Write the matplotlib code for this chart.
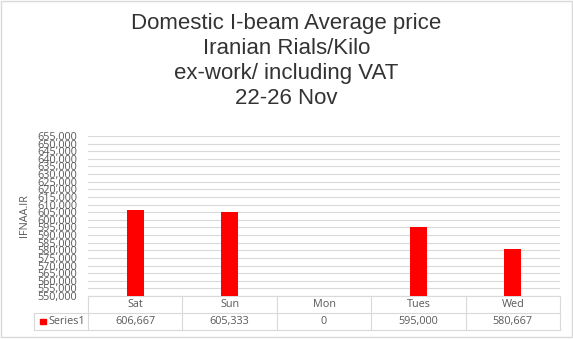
import matplotlib
matplotlib.use("Agg")
import matplotlib.pyplot as plt
from matplotlib.patches import Rectangle
from matplotlib.ticker import FuncFormatter, MultipleLocator
from matplotlib.transforms import blended_transform_factory

days = ["Sat", "Sun", "Mon", "Tues", "Wed"]
prices = [606667, 605333, 0, 595000, 580667]
series_name = "Series1"
y_min, y_max, y_step = 550000, 655000, 5000

title = "Domestic I-beam Average price\nIranian Rials/Kilo\nex-work/ including VAT\n22-26 Nov"
ylabel = "IFNAA.IR"

grid_c = "#d9d9d9"
text_c = "#595959"
bar_c = "#ff0000"
small = ["Open Sans", "DejaVu Sans"]

W, H = 573, 339
fig = plt.figure(figsize=(W / 100, H / 100), dpi=100)
plt.rcParams["font.family"] = ["Liberation Sans", "DejaVu Sans"]

# plot area in pixels: left 88, right 560, top 136, bottom 296
ax = fig.add_axes([88 / W, 1 - 296 / H, 472 / W, 160 / H])
x = list(range(len(days)))
ax.bar(x, prices, width=0.177, color=bar_c, zorder=3)
ax.set_xlim(-0.5, len(days) - 0.5)
ax.set_ylim(y_min, y_max)
ax.yaxis.set_major_locator(MultipleLocator(y_step))
ax.yaxis.set_major_formatter(FuncFormatter(lambda v, p: f"{v:,.0f}"))
ax.grid(axis="y", color=grid_c, linewidth=0.8, zorder=0)
for s in ax.spines.values():
    s.set_visible(False)
ax.tick_params(axis="y", length=0, pad=8, labelsize=7.8, labelcolor=text_c)
for lab in ax.get_yticklabels():
    lab.set_family(small)
ax.set_xticks([])
ax.set_ylabel(ylabel, fontsize=7.8, color=text_c, family=small)
ax.yaxis.set_label_coords(-0.122, 0.5)

# data table under the plot
tr = blended_transform_factory(ax.transData, ax.transAxes)
row_h = 17 / 160
x_left = -0.5 - 54 / (472 / len(days))
lk = dict(color=grid_c, linewidth=0.8, transform=tr, clip_on=False)
ax.plot([-0.5, len(days) - 0.5], [0, 0], **lk)
ax.plot([x_left, len(days) - 0.5], [-row_h, -row_h], **lk)
ax.plot([x_left, len(days) - 0.5], [-2 * row_h, -2 * row_h], **lk)
ax.plot([x_left, x_left], [-row_h, -2 * row_h], **lk)
for i in range(len(days) + 1):
    ax.plot([i - 0.5, i - 0.5], [0, -2 * row_h], **lk)
for i, (d, v) in enumerate(zip(days, prices)):
    ax.text(i, -row_h / 2, d, transform=tr, ha="center", va="center",
            fontsize=7.8, color=text_c, family=small)
    ax.text(i, -1.5 * row_h, f"{v:,}", transform=tr, ha="center", va="center",
            fontsize=7.8, color=text_c, family=small)
ax.add_patch(Rectangle((x_left + 0.065, -1.5 * row_h - 0.018), 0.06, 0.036,
                       transform=tr, color=bar_c, clip_on=False))
ax.text(x_left + 0.15, -1.5 * row_h, series_name, transform=tr, ha="left",
        va="center", fontsize=7.8, color=text_c, family=small)

fig.text(0.5, 1 - 61 / H, title, ha="center", va="center", fontsize=16,
         color="#333333", linespacing=1.23)

fig.patches.append(Rectangle((0.5 / W, 2.5 / H), 571 / W, 336 / H,
                             transform=fig.transFigure, fill=False,
                             edgecolor=grid_c, linewidth=1))

fig.savefig("out.png", dpi=100)
